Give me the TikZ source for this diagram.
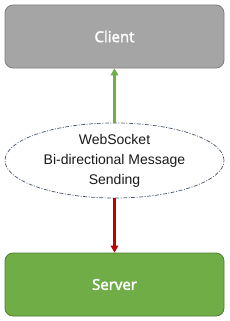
\documentclass[tikz,border=0pt]{standalone}
\usepackage{fontspec}
\setmainfont{Liberation Sans}
\newfontfamily\boxfont[FakeBold=2.5]{Open Sans}
\usetikzlibrary{shapes.geometric,arrows.meta}
\definecolor{clientgray}{HTML}{A5A5A5}
\definecolor{clientedge}{HTML}{7F7F7F}
\definecolor{servergreen}{HTML}{70AD47}
\definecolor{serveredge}{HTML}{507E32}
\definecolor{arrowred}{HTML}{C00000}
\definecolor{ellipseedge}{HTML}{44546A}
\definecolor{textgray}{HTML}{1A1A1A}
\tikzset{
  boxnode/.style={rounded corners=8pt, minimum width=219pt, minimum height=63pt, line width=0.8pt, text=white, font=\boxfont\fontsize{15}{18}\selectfont},
  ellnode/.style={ellipse, draw=ellipseedge, line width=0.7pt, dash pattern=on 4pt off 1.5pt on 1pt off 1.5pt, minimum width=219pt, minimum height=75pt, inner sep=0pt, align=center, text=textgray, font=\fontsize{14}{20}\selectfont},
  conn/.style={line width=2.2pt, -{Triangle[length=7pt,width=7.5pt]}}
}
\begin{document}
\begin{tikzpicture}[x=1pt,y=-1pt]
\useasboundingbox (0,0) rectangle (230,321);
\node[boxnode, fill=clientgray, draw=clientedge] (client) at (114.5,36.5) {Client};
\node[boxnode, fill=servergreen, draw=serveredge] (server) at (114.5,284.5) {Server};
\node[ellnode] (ws) at (114.5,160.5) {WebSocket\\Bi-directional Message\\Sending};
\draw[conn, servergreen] (ws.north) -- (client.south);
\draw[conn, arrowred] (ws.south) -- (server.north);
\end{tikzpicture}
\end{document}
